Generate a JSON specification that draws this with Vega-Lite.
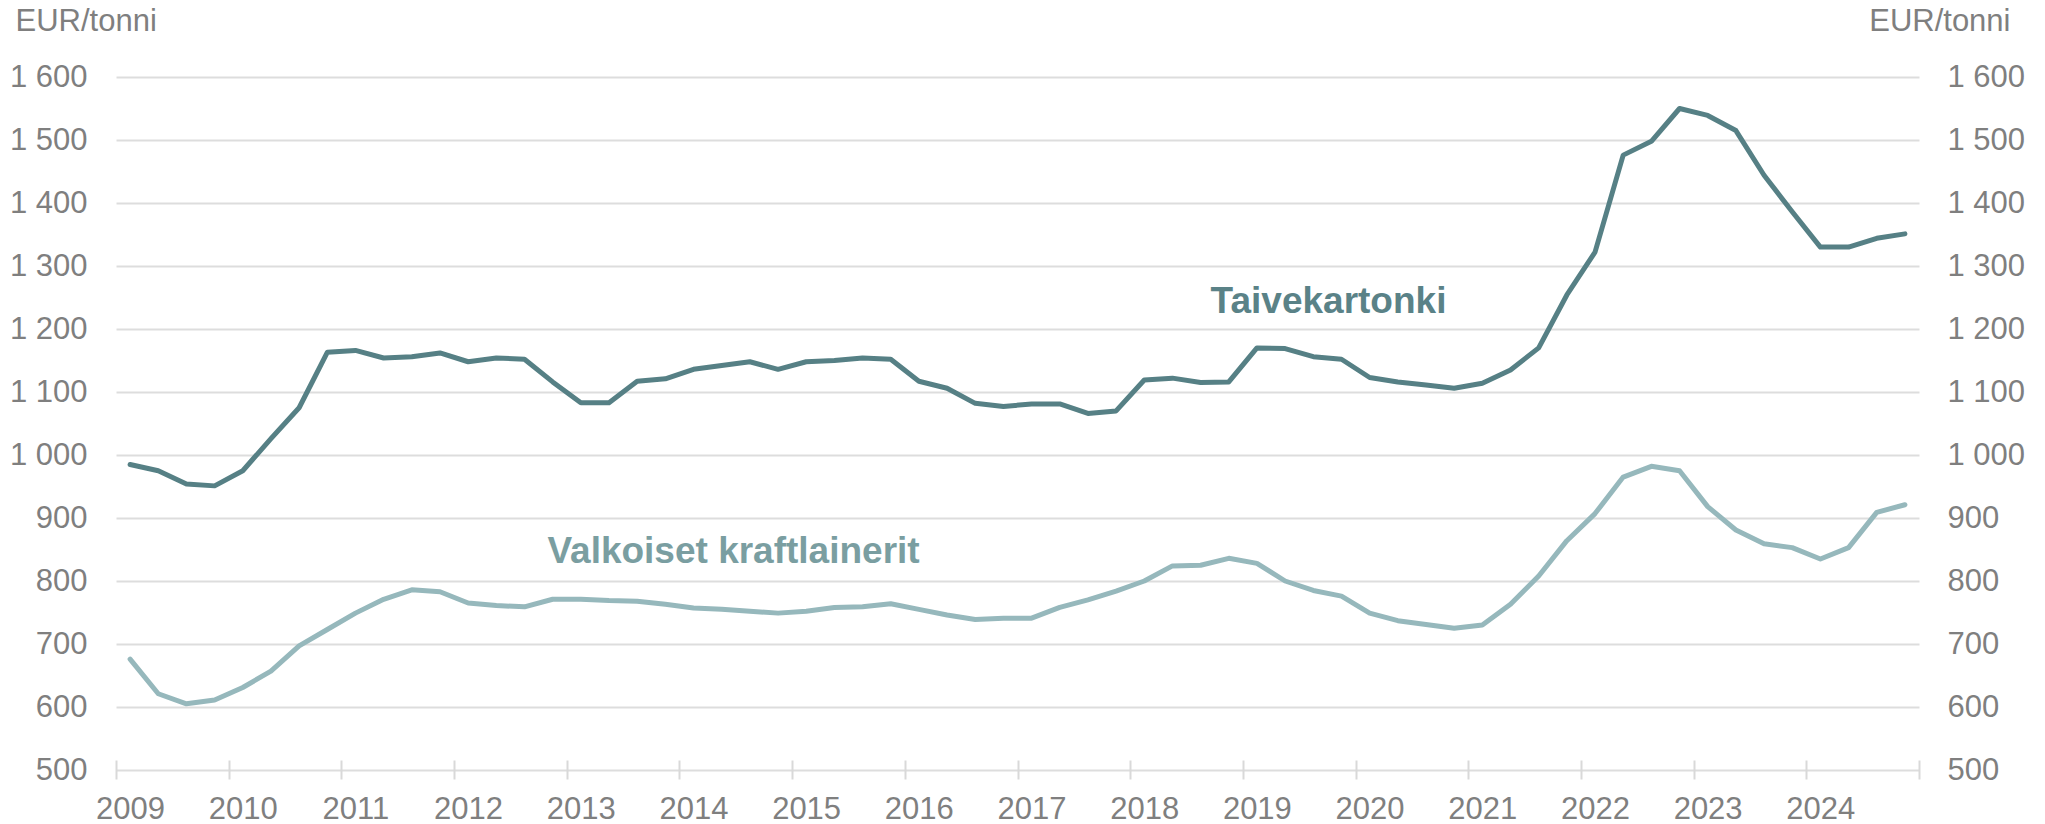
{
  "$schema": "https://vega.github.io/schema/vega-lite/v6.json",
  "width": 1803,
  "height": 693,
  "autosize": {"type": "none"},
  "padding": {"left": 116, "top": 77, "right": 126, "bottom": 54},
  "background": "white",
  "config": {"view": {"stroke": null}, "font": "Liberation Sans"},
  "datasets": {
    "prices": [
      {"sarja": "Taivekartonki", "t": 2009.125, "v": 985}, {"sarja": "Taivekartonki", "t": 2009.375, "v": 975}, {"sarja": "Taivekartonki", "t": 2009.625, "v": 954}, {"sarja": "Taivekartonki", "t": 2009.875, "v": 951},
      {"sarja": "Taivekartonki", "t": 2010.125, "v": 975}, {"sarja": "Taivekartonki", "t": 2010.375, "v": 1026}, {"sarja": "Taivekartonki", "t": 2010.625, "v": 1075}, {"sarja": "Taivekartonki", "t": 2010.875, "v": 1163},
      {"sarja": "Taivekartonki", "t": 2011.125, "v": 1166}, {"sarja": "Taivekartonki", "t": 2011.375, "v": 1154}, {"sarja": "Taivekartonki", "t": 2011.625, "v": 1156}, {"sarja": "Taivekartonki", "t": 2011.875, "v": 1162},
      {"sarja": "Taivekartonki", "t": 2012.125, "v": 1148}, {"sarja": "Taivekartonki", "t": 2012.375, "v": 1154}, {"sarja": "Taivekartonki", "t": 2012.625, "v": 1152}, {"sarja": "Taivekartonki", "t": 2012.875, "v": 1116},
      {"sarja": "Taivekartonki", "t": 2013.125, "v": 1083}, {"sarja": "Taivekartonki", "t": 2013.375, "v": 1083}, {"sarja": "Taivekartonki", "t": 2013.625, "v": 1117}, {"sarja": "Taivekartonki", "t": 2013.875, "v": 1121},
      {"sarja": "Taivekartonki", "t": 2014.125, "v": 1136}, {"sarja": "Taivekartonki", "t": 2014.375, "v": 1142}, {"sarja": "Taivekartonki", "t": 2014.625, "v": 1148}, {"sarja": "Taivekartonki", "t": 2014.875, "v": 1136},
      {"sarja": "Taivekartonki", "t": 2015.125, "v": 1148}, {"sarja": "Taivekartonki", "t": 2015.375, "v": 1150}, {"sarja": "Taivekartonki", "t": 2015.625, "v": 1154}, {"sarja": "Taivekartonki", "t": 2015.875, "v": 1152},
      {"sarja": "Taivekartonki", "t": 2016.125, "v": 1117}, {"sarja": "Taivekartonki", "t": 2016.375, "v": 1106}, {"sarja": "Taivekartonki", "t": 2016.625, "v": 1082}, {"sarja": "Taivekartonki", "t": 2016.875, "v": 1077},
      {"sarja": "Taivekartonki", "t": 2017.125, "v": 1081}, {"sarja": "Taivekartonki", "t": 2017.375, "v": 1081}, {"sarja": "Taivekartonki", "t": 2017.625, "v": 1066}, {"sarja": "Taivekartonki", "t": 2017.875, "v": 1070},
      {"sarja": "Taivekartonki", "t": 2018.125, "v": 1119}, {"sarja": "Taivekartonki", "t": 2018.375, "v": 1122}, {"sarja": "Taivekartonki", "t": 2018.625, "v": 1115}, {"sarja": "Taivekartonki", "t": 2018.875, "v": 1116},
      {"sarja": "Taivekartonki", "t": 2019.125, "v": 1170}, {"sarja": "Taivekartonki", "t": 2019.375, "v": 1169}, {"sarja": "Taivekartonki", "t": 2019.625, "v": 1156}, {"sarja": "Taivekartonki", "t": 2019.875, "v": 1152},
      {"sarja": "Taivekartonki", "t": 2020.125, "v": 1123}, {"sarja": "Taivekartonki", "t": 2020.375, "v": 1116}, {"sarja": "Taivekartonki", "t": 2020.625, "v": 1111}, {"sarja": "Taivekartonki", "t": 2020.875, "v": 1106},
      {"sarja": "Taivekartonki", "t": 2021.125, "v": 1114}, {"sarja": "Taivekartonki", "t": 2021.375, "v": 1135}, {"sarja": "Taivekartonki", "t": 2021.625, "v": 1170}, {"sarja": "Taivekartonki", "t": 2021.875, "v": 1254},
      {"sarja": "Taivekartonki", "t": 2022.125, "v": 1322}, {"sarja": "Taivekartonki", "t": 2022.375, "v": 1476}, {"sarja": "Taivekartonki", "t": 2022.625, "v": 1498}, {"sarja": "Taivekartonki", "t": 2022.875, "v": 1550},
      {"sarja": "Taivekartonki", "t": 2023.125, "v": 1539}, {"sarja": "Taivekartonki", "t": 2023.375, "v": 1515}, {"sarja": "Taivekartonki", "t": 2023.625, "v": 1444}, {"sarja": "Taivekartonki", "t": 2023.875, "v": 1386},
      {"sarja": "Taivekartonki", "t": 2024.125, "v": 1330}, {"sarja": "Taivekartonki", "t": 2024.375, "v": 1330}, {"sarja": "Taivekartonki", "t": 2024.625, "v": 1344}, {"sarja": "Taivekartonki", "t": 2024.875, "v": 1351},
      {"sarja": "Valkoiset kraftlainerit", "t": 2009.125, "v": 676}, {"sarja": "Valkoiset kraftlainerit", "t": 2009.375, "v": 621}, {"sarja": "Valkoiset kraftlainerit", "t": 2009.625, "v": 605}, {"sarja": "Valkoiset kraftlainerit", "t": 2009.875, "v": 611},
      {"sarja": "Valkoiset kraftlainerit", "t": 2010.125, "v": 631}, {"sarja": "Valkoiset kraftlainerit", "t": 2010.375, "v": 657}, {"sarja": "Valkoiset kraftlainerit", "t": 2010.625, "v": 697}, {"sarja": "Valkoiset kraftlainerit", "t": 2010.875, "v": 723},
      {"sarja": "Valkoiset kraftlainerit", "t": 2011.125, "v": 749}, {"sarja": "Valkoiset kraftlainerit", "t": 2011.375, "v": 771}, {"sarja": "Valkoiset kraftlainerit", "t": 2011.625, "v": 786}, {"sarja": "Valkoiset kraftlainerit", "t": 2011.875, "v": 783},
      {"sarja": "Valkoiset kraftlainerit", "t": 2012.125, "v": 765}, {"sarja": "Valkoiset kraftlainerit", "t": 2012.375, "v": 761}, {"sarja": "Valkoiset kraftlainerit", "t": 2012.625, "v": 759}, {"sarja": "Valkoiset kraftlainerit", "t": 2012.875, "v": 771},
      {"sarja": "Valkoiset kraftlainerit", "t": 2013.125, "v": 771}, {"sarja": "Valkoiset kraftlainerit", "t": 2013.375, "v": 769}, {"sarja": "Valkoiset kraftlainerit", "t": 2013.625, "v": 768}, {"sarja": "Valkoiset kraftlainerit", "t": 2013.875, "v": 763},
      {"sarja": "Valkoiset kraftlainerit", "t": 2014.125, "v": 757}, {"sarja": "Valkoiset kraftlainerit", "t": 2014.375, "v": 755}, {"sarja": "Valkoiset kraftlainerit", "t": 2014.625, "v": 752}, {"sarja": "Valkoiset kraftlainerit", "t": 2014.875, "v": 749},
      {"sarja": "Valkoiset kraftlainerit", "t": 2015.125, "v": 752}, {"sarja": "Valkoiset kraftlainerit", "t": 2015.375, "v": 758}, {"sarja": "Valkoiset kraftlainerit", "t": 2015.625, "v": 759}, {"sarja": "Valkoiset kraftlainerit", "t": 2015.875, "v": 764},
      {"sarja": "Valkoiset kraftlainerit", "t": 2016.125, "v": 755}, {"sarja": "Valkoiset kraftlainerit", "t": 2016.375, "v": 746}, {"sarja": "Valkoiset kraftlainerit", "t": 2016.625, "v": 739}, {"sarja": "Valkoiset kraftlainerit", "t": 2016.875, "v": 741},
      {"sarja": "Valkoiset kraftlainerit", "t": 2017.125, "v": 741}, {"sarja": "Valkoiset kraftlainerit", "t": 2017.375, "v": 758}, {"sarja": "Valkoiset kraftlainerit", "t": 2017.625, "v": 770}, {"sarja": "Valkoiset kraftlainerit", "t": 2017.875, "v": 784},
      {"sarja": "Valkoiset kraftlainerit", "t": 2018.125, "v": 800}, {"sarja": "Valkoiset kraftlainerit", "t": 2018.375, "v": 824}, {"sarja": "Valkoiset kraftlainerit", "t": 2018.625, "v": 825}, {"sarja": "Valkoiset kraftlainerit", "t": 2018.875, "v": 836},
      {"sarja": "Valkoiset kraftlainerit", "t": 2019.125, "v": 828}, {"sarja": "Valkoiset kraftlainerit", "t": 2019.375, "v": 800}, {"sarja": "Valkoiset kraftlainerit", "t": 2019.625, "v": 785}, {"sarja": "Valkoiset kraftlainerit", "t": 2019.875, "v": 776},
      {"sarja": "Valkoiset kraftlainerit", "t": 2020.125, "v": 749}, {"sarja": "Valkoiset kraftlainerit", "t": 2020.375, "v": 737}, {"sarja": "Valkoiset kraftlainerit", "t": 2020.625, "v": 731}, {"sarja": "Valkoiset kraftlainerit", "t": 2020.875, "v": 725},
      {"sarja": "Valkoiset kraftlainerit", "t": 2021.125, "v": 730}, {"sarja": "Valkoiset kraftlainerit", "t": 2021.375, "v": 763}, {"sarja": "Valkoiset kraftlainerit", "t": 2021.625, "v": 808}, {"sarja": "Valkoiset kraftlainerit", "t": 2021.875, "v": 864},
      {"sarja": "Valkoiset kraftlainerit", "t": 2022.125, "v": 907}, {"sarja": "Valkoiset kraftlainerit", "t": 2022.375, "v": 965}, {"sarja": "Valkoiset kraftlainerit", "t": 2022.625, "v": 982}, {"sarja": "Valkoiset kraftlainerit", "t": 2022.875, "v": 975},
      {"sarja": "Valkoiset kraftlainerit", "t": 2023.125, "v": 918}, {"sarja": "Valkoiset kraftlainerit", "t": 2023.375, "v": 881}, {"sarja": "Valkoiset kraftlainerit", "t": 2023.625, "v": 859}, {"sarja": "Valkoiset kraftlainerit", "t": 2023.875, "v": 853},
      {"sarja": "Valkoiset kraftlainerit", "t": 2024.125, "v": 835}, {"sarja": "Valkoiset kraftlainerit", "t": 2024.375, "v": 853}, {"sarja": "Valkoiset kraftlainerit", "t": 2024.625, "v": 909}, {"sarja": "Valkoiset kraftlainerit", "t": 2024.875, "v": 921}
    ],
    "labels": [
      {"sarja": "Taivekartonki", "t": 2019.76, "v": 1225},
      {"sarja": "Valkoiset kraftlainerit", "t": 2014.48, "v": 829}
    ]
  },
  "resolve": {"scale": {"color": "independent"}, "axis": {"y": "independent"}},
  "layer": [
    {
      "data": {"name": "prices"},
      "mark": {"type": "line", "strokeWidth": 5, "strokeCap": "round", "strokeJoin": "round"},
      "encoding": {
        "x": {
          "field": "t", "type": "quantitative",
          "scale": {"domain": [2009, 2025], "nice": false, "zero": false},
          "axis": {
            "values": [2009, 2010, 2011, 2012, 2013, 2014, 2015, 2016, 2017, 2018, 2019, 2020, 2021, 2022, 2023, 2024, 2025],
            "format": "d",
            "labelExpr": "datum.value == 2025 ? '' : datum.label",
            "grid": false, "domain": false, "ticks": true,
            "tickSize": 19, "tickWidth": 2, "tickColor": "#d9d9d9",
            "offset": -10, "labelOffset": 14, "labelPadding": 39,
            "labelBaseline": "alphabetic", "labelFontSize": 31, "labelColor": "#7f7f7f",
            "labelFont": "Liberation Sans", "labelFlush": false, "labelOverlap": false, "labelBound": false,
            "title": null
          }
        },
        "y": {
          "field": "v", "type": "quantitative",
          "scale": {"domain": [500, 1600], "nice": false, "zero": false},
          "axis": {
            "orient": "left",
            "values": [500, 600, 700, 800, 900, 1000, 1100, 1200, 1300, 1400, 1500, 1600],
            "labelExpr": "replace(format(datum.value, ','), ',', ' ')",
            "grid": true, "gridColor": "#dddddd", "gridWidth": 2,
            "domain": false, "ticks": false, "tickSize": 0,
            "labelPadding": 29, "labelFontSize": 31, "labelColor": "#7f7f7f", "labelFont": "Liberation Sans",
            "title": "EUR/tonni", "titleAngle": 0, "titleX": -101, "titleY": -47,
            "titleAlign": "left", "titleBaseline": "alphabetic", "titleFontSize": 31,
            "titleFontWeight": "normal", "titleColor": "#7f7f7f", "titleFont": "Liberation Sans"
          }
        },
        "color": {
          "field": "sarja", "type": "nominal",
          "scale": {"domain": ["Taivekartonki", "Valkoiset kraftlainerit"], "range": ["#568085", "#96b8bc"]},
          "legend": null
        }
      }
    },
    {
      "data": {"name": "labels"},
      "mark": {"type": "text", "fontSize": 37, "fontWeight": "bold", "font": "Liberation Sans", "align": "center", "baseline": "alphabetic"},
      "encoding": {
        "x": {"field": "t", "type": "quantitative"},
        "y": {
          "field": "v", "type": "quantitative",
          "axis": {
            "orient": "right",
            "values": [500, 600, 700, 800, 900, 1000, 1100, 1200, 1300, 1400, 1500, 1600],
            "labelExpr": "replace(format(datum.value, ','), ',', ' ')",
            "grid": false, "domain": false, "ticks": false, "tickSize": 0,
            "labelPadding": 28, "labelFontSize": 31, "labelColor": "#7f7f7f", "labelFont": "Liberation Sans",
            "title": "EUR/tonni", "titleAngle": 0, "titleX": 91, "titleY": -47,
            "titleAlign": "right", "titleBaseline": "alphabetic", "titleFontSize": 31,
            "titleFontWeight": "normal", "titleColor": "#7f7f7f", "titleFont": "Liberation Sans"
          }
        },
        "text": {"field": "sarja"},
        "color": {
          "field": "sarja", "type": "nominal",
          "scale": {"domain": ["Taivekartonki", "Valkoiset kraftlainerit"], "range": ["#5a8287", "#7a9ea1"]},
          "legend": null
        }
      }
    }
  ]
}
